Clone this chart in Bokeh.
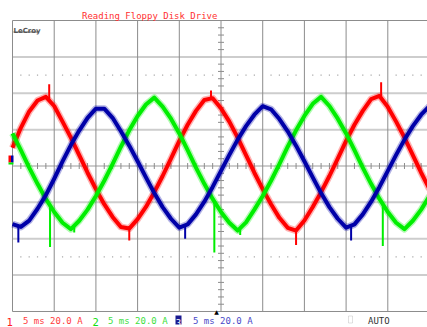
from bokeh.plotting import figure
from bokeh.models import Label, BoxAnnotation, Range1d
from bokeh.embed import file_html
from bokeh.resources import INLINE

time_ms = [-25, -24, -23, -22, -21, -20, -19, -18, -17, -16, -15, -14, -13, -12, -11, -10,
           -9, -8, -7, -6, -5, -4, -3, -2, -1, 0, 1, 2, 3, 4, 5, 6, 7, 8, 9, 10, 11, 12,
           13, 14, 15, 16, 17, 18, 19, 20, 21, 22, 23, 24, 25]

ch1_red = [10.0, 21.0, 30.0, 36.0, 38.0,
           33.0, 24.4, 15.6, 6.0, -3.7, -12.7, -21.0, -28.0, -33.5, -34.4,
           -29.2, -22.5, -14.4, -5.5, 4.0, 13.8, 22.7, 30.3, 36.3, 37.3,
           31.7, 24.4, 15.6, 6.0, -3.7, -12.7, -21.0, -28.5, -34.0, -35.5,
           -30.0, -22.5, -14.4, -5.5, 4.0, 13.8, 22.7, 30.3, 36.8, 38.5,
           32.5, 24.4, 15.6, 6.0, -3.7, -12.7]

ch2_green = [17.9, 8.7, -0.9, -9.8, -18.1,
             -25.3, -31.2, -34.7, -30.1, -24.0, -16.5, -8.1, 1.0, 10.6, 19.6,
             27.5, 33.8, 37.6, 32.7, 26.0, 17.9, 8.7, -0.9, -9.8, -18.1,
             -25.3, -31.2, -35.5, -31.0, -24.0, -16.5, -8.1, 1.0, 10.6, 19.6,
             27.5, 34.2, 38.0, 33.0, 26.0, 17.9, 8.7, -0.9, -9.8, -18.1,
             -25.3, -31.2, -34.7, -30.1, -24.0, -16.5]

ch3_blue = [-32.0, -33.5, -30.0, -23.5, -16.0, -7.0, 2.5, 11.5, 19.5, 26.5, 31.5, 31.5, 26.5,
            19.1, 11.2, 2.6, -6.3, -14.9, -22.6, -29.0, -33.9, -32.1, -26.6, -19.6, -11.5,
            -2.7, 6.1, 14.5, 21.9, 28.2, 32.9, 31.2, 25.8, 19.1, 11.2,
            2.6, -6.3, -14.9, -22.6, -29.0, -33.9, -32.1, -26.6, -19.6, -11.5,
            -2.7, 6.1, 14.5, 21.9, 28.2, 32.9]

red_spike_t = [-20.6, -11.0, -1.2, 9.0, 19.2]
red_spike_base = [36.0, -33.0, 37.0, -35.0, 37.0]
red_spike_tip = [45.0, -41.0, 41.5, -43.5, 46.0]

green_spike_t = [-20.5, -17.6, -0.8, 2.3, 19.4]
green_spike_base = [-21.5, -33.0, -19.5, -34.0, -21.0]
green_spike_tip = [-44.5, -36.5, -47.5, -38.0, -44.0]

blue_spike_t = [-24.3, -4.3, 15.6]
blue_spike_base = [-32.5, -33.5, -33.0]
blue_spike_tip = [-42.0, -40.0, -41.0]

# grid: 10 divisions of 5 ms (last line lies beyond the screen), 8 divisions of 20 A
grid_t = [-25, -20, -15, -10, -5, 0, 5, 10, 15, 20]
grid_a = [-80, -60, -40, -20, 0, 20, 40, 60, 80]
dotted_rows_a = [-50, 50]

title_text = "Reading Floppy Disk Drive"
ch_labels = ["1", "2", "3"]
ch_setting = "5 ms 20.0 A"
trigger_mode = "AUTO"

RED = "#ff0000"
GREEN = "#00ee00"
BLUE = "#0000a8"
GRID_DARK = "#8c8c8c"
GRID_LIGHT = "#cdcdcd"
MONO = "DejaVu Sans Mono"
W, H = 427, 327

p = figure(width=W, height=H, output_backend="svg", toolbar_location=None,
           x_range=Range1d(-26.44, 24.76), y_range=Range1d(-88.8, 91.0),
           min_border=0, outline_line_color=None, background_fill_color="white")
p.axis.visible = False
p.grid.visible = False


def sbox(left, right, bottom, top, **kw):
    p.add_layout(BoxAnnotation(left=left, right=right, bottom=bottom, top=top,
                               left_units="screen", right_units="screen",
                               bottom_units="screen", top_units="screen", **kw))


def slabel(x, y, text, **kw):
    kw.setdefault("text_baseline", "alphabetic")
    p.add_layout(Label(x=x, y=y, x_units="screen", y_units="screen", text=text, **kw))


x_far = 30  # horizontal lines run off the right edge
# horizontal grid lines
inner_a = [a for a in grid_a if a not in (grid_a[0], grid_a[-1])]
p.segment(x0=[grid_t[0]] * len(inner_a), x1=[x_far] * len(inner_a),
          y0=inner_a, y1=inner_a, line_color=GRID_LIGHT, line_width=2)
edge_a = [grid_a[0], grid_a[-1]]
p.segment(x0=[grid_t[0]] * 2, x1=[x_far] * 2, y0=edge_a, y1=edge_a,
          line_color=GRID_DARK, line_width=1)
# vertical grid lines
p.segment(x0=grid_t, x1=grid_t, y0=[grid_a[0]] * len(grid_t), y1=[grid_a[-1]] * len(grid_t),
          line_color=GRID_DARK, line_width=1)

# dotted rows (1/5 division)
dot_t = [t for t in range(grid_t[0], x_far) if t % 5 != 0]
for a in dotted_rows_a:
    p.rect(x=dot_t, y=[a] * len(dot_t), width=1.2, height=1.2,
           width_units="screen", height_units="screen",
           fill_color="#a8a8a8", line_color=None)

# centre axis ticks
v_ticks = [a for a in range(grid_a[0], grid_a[-1] + 1, 4) if a % 20 != 0]
p.scatter(x=[0] * len(v_ticks), y=v_ticks, marker="dash", size=6,
          line_color=GRID_DARK, line_width=1)
h_ticks = [t for t in range(grid_t[0] + 1, x_far) if t % 5 != 0]
p.scatter(x=h_ticks, y=[0] * len(h_ticks), marker="dash", size=6, angle=1.5708,
          line_color=GRID_DARK, line_width=1)

# traces
for ys, col in ((ch1_red, RED), (ch2_green, GREEN), (ch3_blue, BLUE)):
    p.line(time_ms, ys, line_color=col, line_width=7, line_alpha=0.3, line_join="round")
    p.line(time_ms, ys, line_color=col, line_width=4, line_join="round")

p.segment(x0=red_spike_t, x1=red_spike_t, y0=red_spike_base, y1=red_spike_tip,
          line_color=RED, line_width=2)
p.segment(x0=green_spike_t, x1=green_spike_t, y0=green_spike_base, y1=green_spike_tip,
          line_color=GREEN, line_width=2)
p.segment(x0=blue_spike_t, x1=blue_spike_t, y0=blue_spike_base, y1=blue_spike_tip,
          line_color=BLUE, line_width=2)

# ground marker at left edge
sbox(8, 10.5, 165, 172, fill_color=RED, fill_alpha=1, line_color=None)
sbox(10.5, 13, 165, 172, fill_color=BLUE, fill_alpha=1, line_color=None)
sbox(8, 13, 163, 165, fill_color=GREEN, fill_alpha=1, line_color=None)

# title
slabel(81.5, 312, title_text, text_font=MONO, text_font_size="9px", text_color="#ff3030")
# LeCroy logo
slabel(13, 297, "LeCroy", text_font="DejaVu Sans", text_font_size="7px",
       text_font_style="bold", text_color="#555555")
sbox(13, 38, 295, 296, fill_color="#555555", fill_alpha=1, line_color=None)

# trigger marker
slabel(216, 13, "\u25b2", text_font="DejaVu Sans", text_font_size="6px",
       text_color="#000000", text_align="center", text_baseline="bottom")

# bottom status line (text boxes sit on the bottom edge)
bot = 1.2
slabel(6, bot, ch_labels[0], text_font=MONO, text_font_size="10.5px", text_color="#ff2020",
       text_baseline="bottom")
slabel(22.5, bot, ch_setting, text_font=MONO, text_font_size="9px", text_color="#ff3c3c",
       text_baseline="bottom")
slabel(92, bot, ch_labels[1], text_font=MONO, text_font_size="10.5px", text_color="#10e010",
       text_baseline="bottom")
slabel(107.5, bot, ch_setting, text_font=MONO, text_font_size="9px", text_color="#40e040",
       text_baseline="bottom")
sbox(175, 181, 3, 12, fill_color="#1a1a90", fill_alpha=1, line_color=None)
slabel(178, bot + 0.8, ch_labels[2], text_font=MONO, text_font_size="9px",
       text_color="#ffffff", text_align="center", text_baseline="bottom")
slabel(192.5, bot, ch_setting, text_font=MONO, text_font_size="9px", text_color="#4a4ac8",
       text_baseline="bottom")
sbox(348, 352, 4.5, 11.5, fill_alpha=0, line_color="#999999", line_width=1)
slabel(367.5, bot + 0.5, trigger_mode, text_font=MONO, text_font_size="9px",
       text_color="#333333", text_baseline="bottom")

open("out.html", "w").write(file_html(p, INLINE))
